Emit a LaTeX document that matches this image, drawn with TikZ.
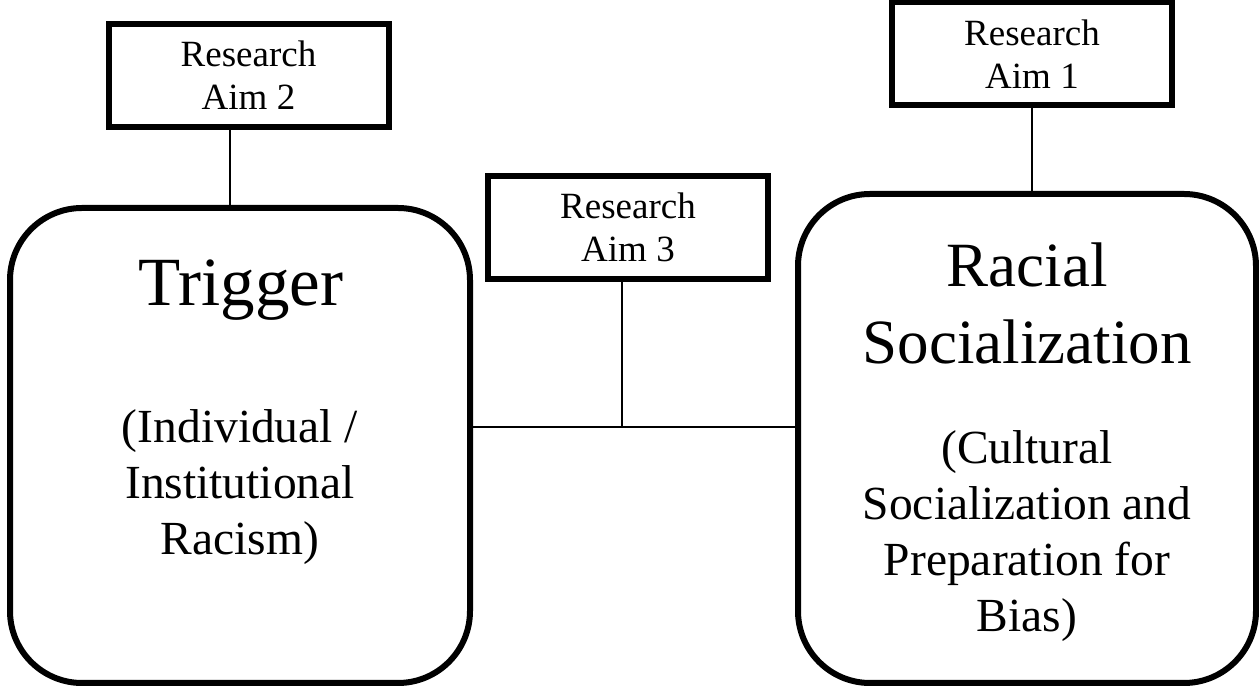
\documentclass[tikz,border=0pt]{standalone}
\usepackage{fontspec}
\setmainfont{Liberation Serif}
\usetikzlibrary{positioning}
\tikzset{aim/.style={draw, line width=3pt, rectangle, minimum width=140pt, minimum height=51.5pt, inner sep=0pt, align=center, font=\fontsize{18.5}{21.5}\selectfont},
    block/.style={draw, line width=3pt, rectangle, rounded corners=36pt, inner sep=0pt},
    title/.style={anchor=base, align=center, inner sep=0pt, font=\fontsize{31.5}{38.5}\selectfont},
    sub/.style={anchor=base, align=center, inner sep=0pt, font=\fontsize{23.75}{28}\selectfont},
    conn/.style={line width=1pt}}

\begin{document}
\begin{tikzpicture}[x=0.5pt, y=-0.5pt]
    \useasboundingbox (0,0) rectangle (1259,688);
    \node[block, minimum width=230pt, minimum height=237.5pt] (T) at (240,445.5) {};
    \node[block, minimum width=229pt, minimum height=244.5pt] (R) at (1027,438.5) {};
    \node[aim] (A2) at (248.5,75.5) {Research\\Aim 2};
    \node[aim] (A1) at (1032,54) {Research\\Aim 1};
    \node[aim] (A3) at (628,227.5) {Research\\Aim 3};
    % texts sit on the baseline of their last line
    \node[title, font=\fontsize{34.5}{41}\selectfont] (Tt) at (241,306) {Trigger};
    \node[sub] (Ts) at (240,555) {(Individual /\\Institutional\\Racism)};
    \node[title] (Rt) at (1027,364) {Racial\\Socialization};
    \node[sub] (Rs) at (1027,632) {(Cultural\\Socialization and\\Preparation for\\Bias)};
    \coordinate (X2) at (230,0);
    \coordinate (J) at (622,427);
    \draw[conn] (A2.south -| X2) -- (T.north -| X2);
    \draw[conn] (A1.south) -- (A1.south |- R.north);
    \draw[conn] (J -| T.east) -- (J -| R.west);
    \draw[conn] (A3.south -| J) -- (J);
\end{tikzpicture}
\end{document}
